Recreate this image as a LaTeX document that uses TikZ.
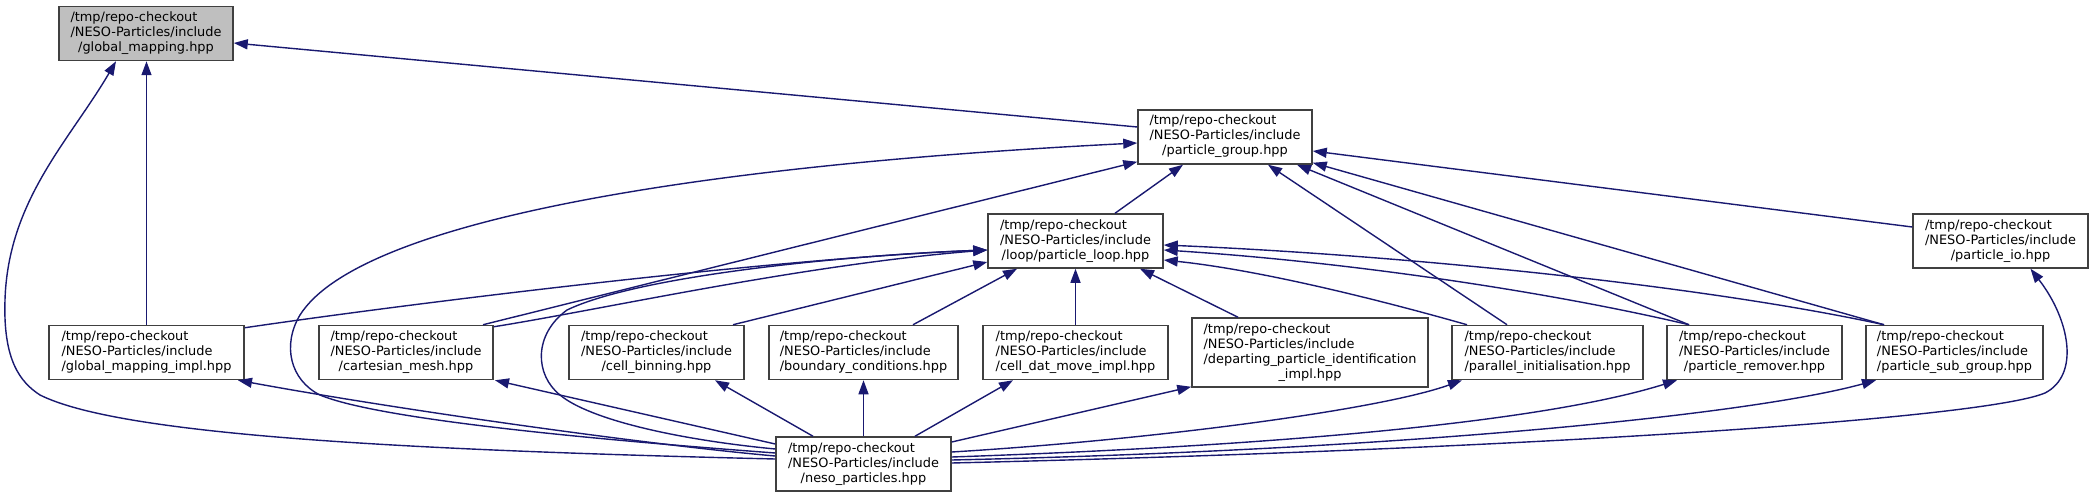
\documentclass[tikz,border=0pt]{standalone}
\usepackage{fontspec}
\setmainfont{DejaVu Sans}
\usetikzlibrary{arrows.meta}
\definecolor{edgecol}{HTML}{191970}
\definecolor{boxline}{HTML}{404040}
\definecolor{focusfill}{HTML}{BFBFBF}
\newcommand{\filelabel}[3]{\begin{tabular}{@{}l@{}}#1\\#2\\\multicolumn{1}{@{}c@{}}{#3}\end{tabular}}
\newcommand{\filelabelfour}[4]{\begin{tabular}{@{}l@{}}#1\\#2\\#3\\\multicolumn{1}{@{}c@{}}{#4}\end{tabular}}
\newcommand{\repochk}{/tmp/repo-checkout}
\newcommand{\nesoinc}{/NESO-Particles/include}
\tikzset{
  filebox/.style={draw=boxline, line width=1.5pt, fill=white, inner xsep=11pt, inner ysep=0pt,
    minimum height=54pt, font=\fontsize{12.9}{15}\selectfont},
  edge/.style={draw=edgecol, line width=1.4pt, -{Triangle[length=14pt,width=10pt]}},
}
\begin{document}
\begin{tikzpicture}[x=1pt,y=-1pt]
\useasboundingbox (0,0) rectangle (2094,497);
% nodes
\node[filebox,fill=focusfill,minimum width=174pt] (GM) at (146,33.5) {\filelabel{\repochk}{\nesoinc}{/global\_mapping.hpp}};
\node[filebox,minimum width=174pt] (PG) at (1225,137) {\filelabel{\repochk}{\nesoinc}{/particle\_group.hpp}};
\node[filebox,minimum width=175pt] (PL) at (1075.5,241) {\filelabel{\repochk}{\nesoinc}{/loop/particle\_loop.hpp}};
\node[filebox,minimum width=175pt] (PIO) at (2000.5,241) {\filelabel{\repochk}{\nesoinc}{/particle\_io.hpp}};
\node[filebox,minimum width=195pt] (GMI) at (146.5,352.5) {\filelabel{\repochk}{\nesoinc}{/global\_mapping\_impl.hpp}};
\node[filebox,minimum width=174pt] (CM) at (406,352.5) {\filelabel{\repochk}{\nesoinc}{/cartesian\_mesh.hpp}};
\node[filebox,minimum width=175pt] (CB) at (656.5,352.5) {\filelabel{\repochk}{\nesoinc}{/cell\_binning.hpp}};
\node[filebox,minimum width=189pt] (BC) at (863.5,352.5) {\filelabel{\repochk}{\nesoinc}{/boundary\_conditions.hpp}};
\node[filebox,minimum width=185pt] (CDM) at (1075.5,352.5) {\filelabel{\repochk}{\nesoinc}{/cell\_dat\_move\_impl.hpp}};
\node[filebox,minimum width=236pt,minimum height=69pt] (DEP) at (1310,352.5) {\filelabelfour{\repochk}{\nesoinc}{/departing\_particle\_identification}{\_impl.hpp}};
\node[filebox,minimum width=191pt] (PI) at (1547.5,352.5) {\filelabel{\repochk}{\nesoinc}{/parallel\_initialisation.hpp}};
\node[filebox,minimum width=175pt] (PR) at (1754.5,352.5) {\filelabel{\repochk}{\nesoinc}{/particle\_remover.hpp}};
\node[filebox,minimum width=177pt] (PSG) at (1954.5,352.5) {\filelabel{\repochk}{\nesoinc}{/particle\_sub\_group.hpp}};
\node[filebox,minimum width=175pt] (NP) at (863.5,464) {\filelabel{\repochk}{\nesoinc}{/neso\_particles.hpp}};
% edges into global_mapping
\draw[edge] ([yshift=10pt]PG.west) -- ([yshift=-9.5pt]GM.east);
\draw[edge] (GMI.north) -- (GMI.north |- GM.south);
\draw[edge] ([yshift=5pt]NP.west) .. controls (400,450) and (120,435) .. (40,395) .. controls (20,382) and (3,360) .. (5,300) .. controls (8,200) and (70,140) .. ([xshift=-30pt]GM.south);
% edges into particle_group
\draw[edge] ([xshift=39.5pt]PL.north) -- ([xshift=-42pt]PG.south);
\draw[edge] ([yshift=11pt]NP.west) .. controls (600,440) and (380,420) .. (320,395) .. controls (290,380) and (282,345) .. (300,315) .. controls (360,220) and (700,165) .. ([yshift=-6pt]PG.west);
\draw[edge] ([xshift=77pt]CM.north) -- ([yshift=3pt]PG.south west);
\draw[edge] ([xshift=-40.5pt]PI.north) -- ([xshift=43pt]PG.south);
\draw[edge] ([xshift=-65.5pt]PR.north) -- ([xshift=72pt]PG.south);
\draw[edge] ([xshift=-70.5pt]PSG.north) -- ([yshift=2pt]PG.south east);
\draw[edge] ([yshift=14pt]PIO.west) -- ([yshift=-14pt]PG.east);
% edges into particle_loop
\draw[edge] ([yshift=-3pt]GMI.north east) .. controls (420,302) and (780,258) .. ([yshift=-9pt]PL.west);
\draw[edge] ([yshift=-2pt]CM.north east) .. controls (600,310) and (800,265) .. ([yshift=-9pt]PL.west);
\draw[edge] ([yshift=15pt]NP.west) .. controls (680,440) and (590,420) .. (560,395) .. controls (535,375) and (533,335) .. (567,310) .. controls (640,275) and (850,255) .. ([yshift=-9pt]PL.west);
\draw[edge] ([xshift=76.5pt]CB.north) -- ([yshift=-21pt]PL.west);
\draw[edge] ([xshift=49.5pt]BC.north) -- ([xshift=-58.5pt]PL.south);
\draw[edge] (CDM.north) -- (PL.south);
\draw[edge] ([xshift=-72pt]DEP.north) -- ([xshift=64.5pt]PL.south);
\draw[edge] ([xshift=-80.5pt]PI.north) .. controls (1380,300) and (1260,270) .. ([yshift=-19pt]PL.east);
\draw[edge] ([xshift=-65.5pt]PR.north) .. controls (1550,292) and (1350,262) .. ([yshift=-9pt]PL.east);
\draw[edge] ([xshift=-70.5pt]PSG.north) .. controls (1700,285) and (1400,255) .. ([yshift=-4pt]PL.east);
% edges from neso_particles
\draw[edge] ([yshift=8pt]NP.west) .. controls (650,445) and (400,410) .. ([xshift=91.5pt]GMI.south);
\draw[edge] ([yshift=20pt]NP.west) -- ([xshift=89pt]CM.south);
\draw[edge] ([xshift=-50.5pt]NP.north) -- ([xshift=58.5pt]CB.south);
\draw[edge] (NP.north) -- (BC.south);
\draw[edge] ([xshift=51.5pt]NP.north) -- ([xshift=-62.5pt]CDM.south);
\draw[edge] ([yshift=22pt]NP.east) -- ([yshift=1pt]DEP.south west);
\draw[edge] ([yshift=12pt]NP.east) .. controls (1150,440) and (1380,410) .. ([xshift=-85.5pt]PI.south);
\draw[edge] ([yshift=7pt]NP.east) .. controls (1300,445) and (1550,420) .. ([xshift=-77.5pt]PR.south);
\draw[edge] ([yshift=4pt]NP.east) .. controls (1400,450) and (1750,415) .. ([xshift=-78.5pt]PSG.south);
\draw[edge] ([yshift=1pt]NP.east) .. controls (1500,450) and (1980,420) .. (2045,393) .. controls (2080,375) and (2070,320) .. ([xshift=30pt]PIO.south);
\end{tikzpicture}
\end{document}
